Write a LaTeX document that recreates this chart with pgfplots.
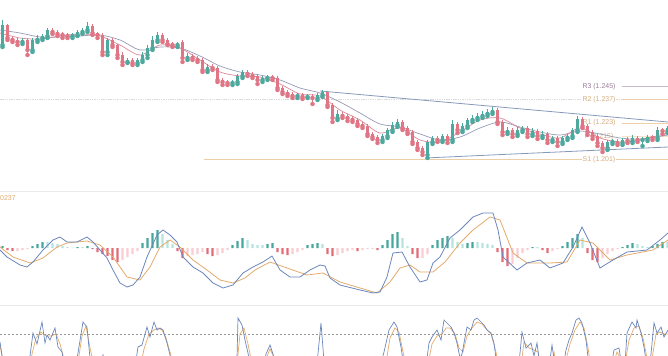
\documentclass[border=0pt]{standalone}
\usepackage{fontspec}
\setmainfont{Liberation Sans}
\usepackage{pgfplots}
\pgfplotsset{compat=1.18}
\usepackage{pgfplotstable}
\definecolor{up}{HTML}{4DA89E}
\definecolor{dn}{HTML}{E07585}
\definecolor{maF}{HTML}{D98A9A}
\definecolor{maS}{HTML}{969BB6}
\definecolor{trend}{HTML}{8599BA}
\definecolor{hDT}{HTML}{45A89D}
\definecolor{hLT}{HTML}{B6E3DE}
\definecolor{hDR}{HTML}{E46C78}
\definecolor{hLR}{HTML}{F8CDD3}
\definecolor{mline}{HTML}{6A86BD}
\definecolor{sline}{HTML}{E3AA6A}
\definecolor{sep}{HTML}{EAEAEA}
\definecolor{pivR3}{HTML}{9C7F9C}
\definecolor{pivTan}{HTML}{D4AE80}
\definecolor{pivLine}{HTML}{EDCFA5}

\pgfplotstableread{
x o h l c
2.5 1.2698 1.2848 1.2686 1.2818
7.5 1.2818 1.2824 1.2728 1.2740
12.5 1.2740 1.2752 1.2716 1.2728
17.5 1.2728 1.2740 1.2698 1.2716
22.5 1.2716 1.2740 1.2704 1.2728
27.5 1.2728 1.2740 1.2638 1.2668
32.5 1.2668 1.2740 1.2656 1.2728
37.5 1.2728 1.2758 1.2716 1.2740
42.5 1.2740 1.2764 1.2728 1.2752
47.5 1.2752 1.2800 1.2740 1.2788
52.5 1.2788 1.2800 1.2764 1.2776
57.5 1.2776 1.2788 1.2752 1.2764
62.5 1.2764 1.2776 1.2740 1.2758
67.5 1.2758 1.2770 1.2740 1.2752
72.5 1.2752 1.2770 1.2740 1.2758
77.5 1.2758 1.2788 1.2752 1.2776
82.5 1.2776 1.2800 1.2764 1.2788
87.5 1.2788 1.2836 1.2776 1.2812
92.5 1.2812 1.2824 1.2758 1.2770
97.5 1.2770 1.2776 1.2740 1.2758
102.5 1.2758 1.2770 1.2638 1.2656
107.5 1.2656 1.2740 1.2638 1.2728
112.5 1.2728 1.2740 1.2686 1.2698
117.5 1.2698 1.2704 1.2620 1.2638
122.5 1.2638 1.2656 1.2578 1.2596
127.5 1.2596 1.2620 1.2590 1.2608
132.5 1.2608 1.2620 1.2578 1.2590
137.5 1.2590 1.2620 1.2578 1.2608
142.5 1.2608 1.2656 1.2596 1.2638
147.5 1.2638 1.2698 1.2620 1.2680
152.5 1.2680 1.2752 1.2668 1.2728
157.5 1.2728 1.2776 1.2716 1.2758
162.5 1.2758 1.2770 1.2716 1.2728
167.5 1.2728 1.2740 1.2698 1.2704
172.5 1.2704 1.2716 1.2686 1.2698
177.5 1.2698 1.2716 1.2686 1.2704
182.5 1.2716 1.2728 1.2596 1.2620
187.5 1.2620 1.2650 1.2608 1.2632
192.5 1.2632 1.2644 1.2608 1.2620
197.5 1.2620 1.2632 1.2596 1.2608
202.5 1.2608 1.2620 1.2536 1.2548
207.5 1.2548 1.2584 1.2536 1.2566
212.5 1.2566 1.2584 1.2548 1.2560
217.5 1.2560 1.2572 1.2476 1.2488
222.5 1.2488 1.2500 1.2458 1.2476
227.5 1.2476 1.2488 1.2458 1.2470
232.5 1.2470 1.2488 1.2458 1.2476
237.5 1.2476 1.2524 1.2464 1.2512
242.5 1.2512 1.2548 1.2500 1.2536
247.5 1.2536 1.2548 1.2512 1.2524
252.5 1.2524 1.2536 1.2500 1.2512
257.5 1.2512 1.2524 1.2464 1.2488
262.5 1.2488 1.2512 1.2476 1.2500
267.5 1.2500 1.2518 1.2488 1.2506
272.5 1.2506 1.2518 1.2488 1.2500
277.5 1.2500 1.2512 1.2428 1.2440
282.5 1.2440 1.2452 1.2404 1.2416
287.5 1.2416 1.2428 1.2392 1.2404
292.5 1.2404 1.2416 1.2380 1.2392
297.5 1.2392 1.2410 1.2380 1.2398
302.5 1.2398 1.2410 1.2374 1.2386
307.5 1.2386 1.2404 1.2380 1.2392
312.5 1.2392 1.2404 1.2344 1.2380
317.5 1.2380 1.2410 1.2368 1.2398
322.5 1.2398 1.2428 1.2386 1.2416
327.5 1.2416 1.2422 1.2326 1.2338
332.5 1.2338 1.2350 1.2236 1.2260
337.5 1.2260 1.2308 1.2248 1.2284
342.5 1.2284 1.2296 1.2260 1.2272
347.5 1.2272 1.2284 1.2242 1.2260
352.5 1.2260 1.2272 1.2236 1.2248
357.5 1.2248 1.2260 1.2212 1.2224
362.5 1.2224 1.2236 1.2200 1.2212
367.5 1.2212 1.2224 1.2152 1.2164
372.5 1.2164 1.2176 1.2134 1.2146
377.5 1.2146 1.2158 1.2110 1.2128
382.5 1.2128 1.2164 1.2116 1.2152
387.5 1.2152 1.2200 1.2140 1.2188
392.5 1.2188 1.2236 1.2176 1.2218
397.5 1.2218 1.2254 1.2206 1.2236
402.5 1.2236 1.2248 1.2188 1.2200
407.5 1.2200 1.2212 1.2164 1.2176
412.5 1.2176 1.2188 1.2104 1.2116
417.5 1.2116 1.2128 1.2068 1.2080
422.5 1.2080 1.2092 1.2038 1.2056
427.5 1.2038 1.2128 1.2020 1.2116
432.5 1.2116 1.2152 1.2104 1.2140
437.5 1.2140 1.2152 1.2116 1.2128
442.5 1.2128 1.2164 1.2116 1.2152
447.5 1.2152 1.2164 1.2110 1.2128
452.5 1.2128 1.2248 1.2116 1.2224
457.5 1.2224 1.2236 1.2170 1.2188
462.5 1.2188 1.2230 1.2176 1.2212
467.5 1.2212 1.2260 1.2200 1.2248
472.5 1.2248 1.2278 1.2236 1.2260
477.5 1.2260 1.2290 1.2248 1.2272
482.5 1.2272 1.2302 1.2260 1.2284
487.5 1.2284 1.2314 1.2272 1.2296
492.5 1.2296 1.2326 1.2284 1.2308
497.5 1.2308 1.2320 1.2224 1.2236
502.5 1.2236 1.2248 1.2158 1.2176
507.5 1.2176 1.2206 1.2164 1.2188
512.5 1.2188 1.2200 1.2146 1.2164
517.5 1.2164 1.2206 1.2152 1.2188
522.5 1.2188 1.2212 1.2176 1.2200
527.5 1.2200 1.2212 1.2146 1.2164
532.5 1.2164 1.2200 1.2152 1.2182
537.5 1.2182 1.2194 1.2134 1.2152
542.5 1.2152 1.2182 1.2140 1.2164
547.5 1.2164 1.2176 1.2110 1.2128
552.5 1.2128 1.2152 1.2116 1.2140
557.5 1.2140 1.2152 1.2092 1.2116
562.5 1.2116 1.2152 1.2104 1.2140
567.5 1.2140 1.2164 1.2128 1.2152
572.5 1.2152 1.2200 1.2140 1.2188
577.5 1.2188 1.2272 1.2176 1.2254
582.5 1.2254 1.2266 1.2200 1.2212
587.5 1.2212 1.2224 1.2158 1.2176
592.5 1.2176 1.2188 1.2134 1.2152
597.5 1.2152 1.2164 1.2092 1.2110
602.5 1.2110 1.2122 1.2056 1.2080
607.5 1.2080 1.2128 1.2068 1.2116
612.5 1.2116 1.2134 1.2104 1.2122
617.5 1.2122 1.2134 1.2098 1.2110
622.5 1.2110 1.2140 1.2098 1.2128
627.5 1.2128 1.2146 1.2110 1.2122
632.5 1.2122 1.2158 1.2110 1.2140
637.5 1.2140 1.2152 1.2116 1.2128
642.5 1.2128 1.2146 1.2092 1.2134
647.5 1.2134 1.2158 1.2122 1.2146
652.5 1.2146 1.2158 1.2128 1.2140
657.5 1.2140 1.2206 1.2128 1.2188
662.5 1.2188 1.2200 1.2164 1.2182
667.5 1.2182 1.2212 1.2170 1.2200
}\candles

\pgfplotstableread{
x v
0 1.2770
20 1.2740
40 1.2734
60 1.2752
80 1.2764
100 1.2752
120 1.2698
140 1.2638
160 1.2698
180 1.2680
200 1.2608
220 1.2536
240 1.2512
260 1.2506
280 1.2464
300 1.2404
320 1.2392
340 1.2308
360 1.2248
380 1.2170
400 1.2200
420 1.2128
440 1.2116
460 1.2176
480 1.2248
500 1.2260
520 1.2200
540 1.2164
560 1.2140
580 1.2200
600 1.2140
620 1.2116
640 1.2128
668 1.2170
}\mafast

\pgfplotstableread{
x v
0 1.2788
20 1.2770
40 1.2746
60 1.2746
80 1.2752
100 1.2758
120 1.2728
140 1.2668
160 1.2686
180 1.2680
200 1.2632
220 1.2572
240 1.2536
260 1.2518
280 1.2488
300 1.2440
320 1.2410
340 1.2356
360 1.2290
380 1.2224
400 1.2206
420 1.2164
440 1.2128
460 1.2146
480 1.2200
500 1.2236
520 1.2206
540 1.2176
560 1.2158
580 1.2182
600 1.2164
620 1.2140
640 1.2134
668 1.2158
}\maslow

\pgfplotstableread{
x h k
2.5 0.0002 1
7.5 -0.0002 3
12.5 -0.0003 3
17.5 -0.0003 4
22.5 -0.0002 4
27.5 -0.0001 4
32.5 0.0002 1
37.5 0.0004 1
42.5 0.0006 1
47.5 0.0006 2
52.5 0.0005 2
57.5 0.0004 2
62.5 0.0002 2
67.5 0.0001 2
72.5 0.00005 2
77.5 0.0001 1
82.5 0.0001 2
87.5 0.0002 1
92.5 -0.0001 3
97.5 -0.0004 3
102.5 -0.0006 3
107.5 -0.0008 3
112.5 -0.0012 3
117.5 -0.0014 3
122.5 -0.0012 4
127.5 -0.0009 4
132.5 -0.0006 4
137.5 -0.0003 4
142.5 0.0005 1
147.5 0.0010 1
152.5 0.0015 1
157.5 0.0018 1
162.5 0.0014 2
167.5 0.0008 2
172.5 0.0004 2
177.5 -0.0003 3
182.5 -0.0010 3
187.5 -0.0008 4
192.5 -0.0007 4
197.5 -0.0006 4
202.5 -0.0004 4
207.5 -0.0006 3
212.5 -0.0008 3
217.5 -0.0007 4
222.5 -0.0005 4
227.5 -0.0002 4
232.5 0.0003 1
237.5 0.0007 1
242.5 0.0010 1
247.5 0.0008 2
252.5 0.0004 2
257.5 0.0003 2
262.5 0.0003 2
267.5 0.0004 1
272.5 0.0005 1
277.5 -0.0004 3
282.5 -0.0006 3
287.5 -0.0007 3
292.5 -0.0006 4
297.5 -0.0004 4
302.5 -0.0002 4
307.5 0.0003 1
312.5 0.0004 1
317.5 0.0005 1
322.5 0.0004 2
327.5 -0.0006 3
332.5 -0.0008 3
337.5 -0.0007 4
342.5 -0.0005 4
347.5 -0.0003 4
352.5 -0.0002 4
357.5 -0.0003 3
362.5 -0.0002 4
367.5 -0.0001 4
372.5 -0.0001 4
377.5 -0.0002 3
382.5 0.0003 1
387.5 0.0008 1
392.5 0.0014 1
397.5 0.0016 1
402.5 0.0010 2
407.5 0.0002 2
412.5 -0.0006 3
417.5 -0.0010 3
422.5 -0.0010 4
427.5 -0.0006 4
432.5 0.0003 1
437.5 0.0008 1
442.5 0.0010 1
447.5 0.0012 1
452.5 0.0010 2
457.5 0.0006 2
462.5 0.0004 2
467.5 0.0005 1
472.5 0.0006 1
477.5 0.0006 2
482.5 0.0005 2
487.5 0.0004 2
492.5 0.0003 2
497.5 -0.0004 3
502.5 -0.0014 3
507.5 -0.0018 3
512.5 -0.0016 4
517.5 -0.0010 4
522.5 -0.0005 4
527.5 -0.0002 4
532.5 0.0001 1
537.5 0.0001 2
542.5 -0.0002 3
547.5 -0.0005 3
552.5 -0.0003 4
557.5 -0.0001 4
562.5 0.0002 1
567.5 0.0006 1
572.5 0.0010 1
577.5 0.0014 1
582.5 0.0010 2
587.5 -0.0005 3
592.5 -0.0012 3
597.5 -0.0014 3
602.5 -0.0010 4
607.5 -0.0006 4
612.5 -0.0003 4
617.5 -0.0001 4
622.5 0.0001 1
627.5 0.0003 1
632.5 0.0005 1
637.5 0.0004 2
642.5 0.0002 2
647.5 0.0001 2
652.5 0.0002 1
657.5 0.0004 1
662.5 0.0006 1
667.5 0.0006 2
}\hist

\pgfplotstableread{
x v
0 -0.0002
7 -0.0009
20 -0.0017
27 -0.0019
33 -0.0014
43 -0.0002
53 0.0008
60 0.0011
67 0.0006
77 0.0006
87 0.0011
93 0.0006
100 -0.0002
107 -0.0010
113 -0.0022
120 -0.0035
127 -0.0039
133 -0.0037
140 -0.0029
147 -0.0009
157 0.0013
163 0.0018
170 0.0013
177 0.0006
183 -0.0009
193 -0.0019
203 -0.0025
213 -0.0035
223 -0.0040
233 -0.0037
243 -0.0025
253 -0.0019
263 -0.0014
272 -0.0008
280 -0.0022
290 -0.0029
300 -0.0029
310 -0.0022
320 -0.0017
325 -0.0018
330 -0.0030
340 -0.0037
360 -0.0042
373 -0.0045
380 -0.0044
387 -0.0029
393 -0.0005
402 -0.0004
410 -0.0019
420 -0.0034
427 -0.0032
433 -0.0015
440 -0.0009
450 0.0010
460 0.0018
473 0.0031
483 0.0035
493 0.0035
498 0.0018
503 -0.0009
517 -0.0022
527 -0.0015
540 -0.0012
550 -0.0020
563 -0.0015
573 0.0001
582 0.0021
590 0.0005
600 -0.0020
613 -0.0012
627 -0.0004
647 -0.0002
660 0.0008
668 0.0015
}\macd

\pgfplotstableread{
x v
0 0.0001
13 -0.0009
30 -0.0015
43 -0.0010
57 0.0001
67 0.0005
87 0.0007
100 0.0003
113 -0.0009
127 -0.0029
140 -0.0032
150 -0.0019
160 0.0001
170 0.0008
180 0.0001
193 -0.0012
207 -0.0022
220 -0.0032
233 -0.0035
245 -0.0030
255 -0.0022
270 -0.0014
287 -0.0020
307 -0.0027
323 -0.0025
340 -0.0034
360 -0.0040
377 -0.0045
390 -0.0034
400 -0.0020
410 -0.0017
420 -0.0024
433 -0.0024
445 -0.0014
460 0.0005
473 0.0018
490 0.0031
500 0.0028
513 -0.0005
527 -0.0015
550 -0.0015
567 -0.0014
580 0.0008
593 0.0005
610 -0.0012
627 -0.0007
653 -0.0002
668 0.0008
}\signal

\pgfplotstableread{
x v
0 72
4 45
26 40
30 58
33 81
37 70
42 92
45 71
47 79
50 74
55 86
58 67
62 62
66 40
74 40
78 61
83 92
87 87
90 56
95 40
100 50
103 59
107 40
134 40
138 67
142 69
147 87
150 77
154 92
157 84
160 86
163 84
167 71
170 59
174 40
232 40
237 56
238 96
242 89
245 74
248 61
252 40
262 40
266 60
270 69
273 60
277 40
316 40
321 91
325 40
378 40
384 62
389 84
394 92
397 87
401 67
405 40
425 40
429 71
432 77
437 84
441 74
444 94
447 91
451 87
454 81
457 71
460 56
462 60
464 71
467 87
471 84
474 94
477 96
481 92
484 89
487 84
491 81
494 71
498 40
518 40
522 82
526 66
531 71
534 58
537 71
541 40
548 40
552 69
556 40
562 40
566 64
569 74
572 81
576 94
579 96
582 91
586 74
590 40
610 40
614 64
619 66
623 40
625 50
627 81
632 92
636 86
637 94
641 81
644 67
648 40
651 60
654 91
657 81
661 87
664 77
668 84
}\stochk

\pgfplotstableread{
x v
0 68
5 45
28 40
32 60
36 76
41 82
46 78
51 78
56 80
60 70
64 55
70 40
77 45
82 78
86 88
90 66
95 45
140 45
144 65
149 80
154 84
158 86
162 84
166 76
170 62
176 40
236 40
240 80
244 86
248 70
252 50
258 40
264 50
270 65
275 55
280 40
385 45
390 76
395 86
399 82
403 62
408 40
428 50
432 70
437 78
442 80
446 86
450 86
455 80
459 66
463 62
467 78
472 86
477 92
482 90
487 84
491 80
496 62
500 40
520 40
524 72
529 66
534 64
538 62
543 40
550 45
554 62
558 40
565 50
570 70
575 84
580 92
584 86
588 66
592 40
612 45
617 62
621 55
625 50
629 74
634 86
639 88
643 76
647 56
652 55
656 80
660 82
664 80
668 80
}\stochd

\pgfplotsset{pane/.style={scale only axis, width=668bp, xmin=0, xmax=668,
  hide axis, clip=true, anchor=north west}}
\tikzset{lbl/.style={font=\fontsize{7}{8}\selectfont, fill=white, inner sep=0.8bp}}

\begin{document}
\begin{tikzpicture}
\path[use as bounding box] (0,0) rectangle (668bp,-356bp);
% ---------------- price pane ----------------
\begin{axis}[pane, at={(0,0)}, height=190bp, ymin=1.1828, ymax=1.2968]
\addplot[draw=black!14, line width=0.7bp, dash pattern=on 1.5bp off 0.8bp] coordinates {(0,1.2372) (668,1.2372)};
\addplot[draw=pivLine, line width=0.9bp] coordinates {(204,1.201) (668,1.201)};
\addplot[draw=pivR3!55, line width=0.9bp] coordinates {(622,1.245) (668,1.245)};
\addplot[draw=pivLine, line width=0.9bp] coordinates {(622,1.237) (668,1.237)};
\addplot[draw=pivLine, line width=0.9bp] coordinates {(622,1.223) (668,1.223)};
\addplot[draw=pivLine!60, line width=0.6bp] coordinates {(622,1.215) (668,1.215)};
\node[lbl, text=pivR3] at (axis cs:599,1.245) {R3 (1.245)};
\node[lbl, text=pivTan] at (axis cs:599,1.237) {R2 (1.237)};
\node[lbl, text=pivTan] at (axis cs:599,1.223) {R1 (1.223)};
\node[lbl, text=pivTan] at (axis cs:599,1.215) {P (1.215)};
\node[lbl, text=pivTan] at (axis cs:599,1.201) {S1 (1.201)};
% trend lines
\addplot[draw=trend, line width=0.8bp] coordinates {(320,1.2422) (668,1.2236)};
\addplot[draw=trend, line width=0.8bp] coordinates {(425,1.2020) (668,1.2086)};
% moving averages
\addplot[draw=maS, line width=0.7bp, smooth, tension=0.5] table[x=x, y=v] {\maslow};
\addplot[draw=maF, line width=0.7bp, smooth, tension=0.5] table[x=x, y=v] {\mafast};
% candle wicks
\addplot[up, only marks, mark=none, restrict expr to domain={\thisrow{c}-\thisrow{o}}{0:1},
  error bars/.cd, y dir=plus, y explicit, error mark=none, error bar style={line width=0.7bp}]
  table[x=x, y=l, y error expr=\thisrow{h}-\thisrow{l}] {\candles};
\addplot[dn, only marks, mark=none, restrict expr to domain={\thisrow{c}-\thisrow{o}}{-1:-0.00001},
  error bars/.cd, y dir=plus, y explicit, error mark=none, error bar style={line width=0.7bp}]
  table[x=x, y=l, y error expr=\thisrow{h}-\thisrow{l}] {\candles};
% candle bodies
\addplot[up, only marks, mark=none, restrict expr to domain={\thisrow{c}-\thisrow{o}}{0:1},
  error bars/.cd, y dir=plus, y explicit, error mark=none, error bar style={line width=2.6bp}]
  table[x=x, y=o, y error expr=\thisrow{c}-\thisrow{o}] {\candles};
\addplot[dn, only marks, mark=none, restrict expr to domain={\thisrow{c}-\thisrow{o}}{-1:-0.00001},
  error bars/.cd, y dir=plus, y explicit, error mark=none, error bar style={line width=2.6bp}]
  table[x=x, y=c, y error expr=\thisrow{o}-\thisrow{c}] {\candles};
\end{axis}
% ---------------- MACD pane ----------------
\begin{axis}[pane, at={(0,-190bp)}, height=115bp, ymin=-0.0057, ymax=0.0058]
\draw[sep, line width=0.8bp] (axis cs:0,0.00565) -- (axis cs:668,0.00565);
\node[anchor=west, font=\fontsize{7}{8}\selectfont, text=sline, inner sep=0pt] at (axis cs:0,0.0050) {0237};
\addplot[ybar, bar width=2.4, bar shift=0pt, fill=hDT, draw=none,
  restrict expr to domain={\thisrow{k}}{0.5:1.5}] table[x=x, y=h] {\hist};
\addplot[ybar, bar width=2.4, bar shift=0pt, fill=hLT, draw=none,
  restrict expr to domain={\thisrow{k}}{1.5:2.5}] table[x=x, y=h] {\hist};
\addplot[ybar, bar width=2.4, bar shift=0pt, fill=hDR, draw=none,
  restrict expr to domain={\thisrow{k}}{2.5:3.5}] table[x=x, y=h] {\hist};
\addplot[ybar, bar width=2.4, bar shift=0pt, fill=hLR, draw=none,
  restrict expr to domain={\thisrow{k}}{3.5:4.5}] table[x=x, y=h] {\hist};
\addplot[draw=sline, line width=0.8bp] table[x=x, y=v] {\signal};
\addplot[draw=mline, line width=0.8bp] table[x=x, y=v] {\macd};
\end{axis}
% ---------------- Stochastic pane ----------------
\begin{axis}[pane, at={(0,-305bp)}, height=51bp, ymin=58, ymax=109]
\draw[sep, line width=0.8bp] (axis cs:0,108.5) -- (axis cs:668,108.5);
\addplot[draw=black!40, line width=0.6bp, dash pattern=on 2bp off 2bp] coordinates {(0,80) (668,80)};
\addplot[draw=sline, line width=0.7bp] table[x=x, y=v] {\stochd};
\addplot[draw=mline, line width=0.7bp] table[x=x, y=v] {\stochk};
\end{axis}
\end{tikzpicture}
\end{document}
